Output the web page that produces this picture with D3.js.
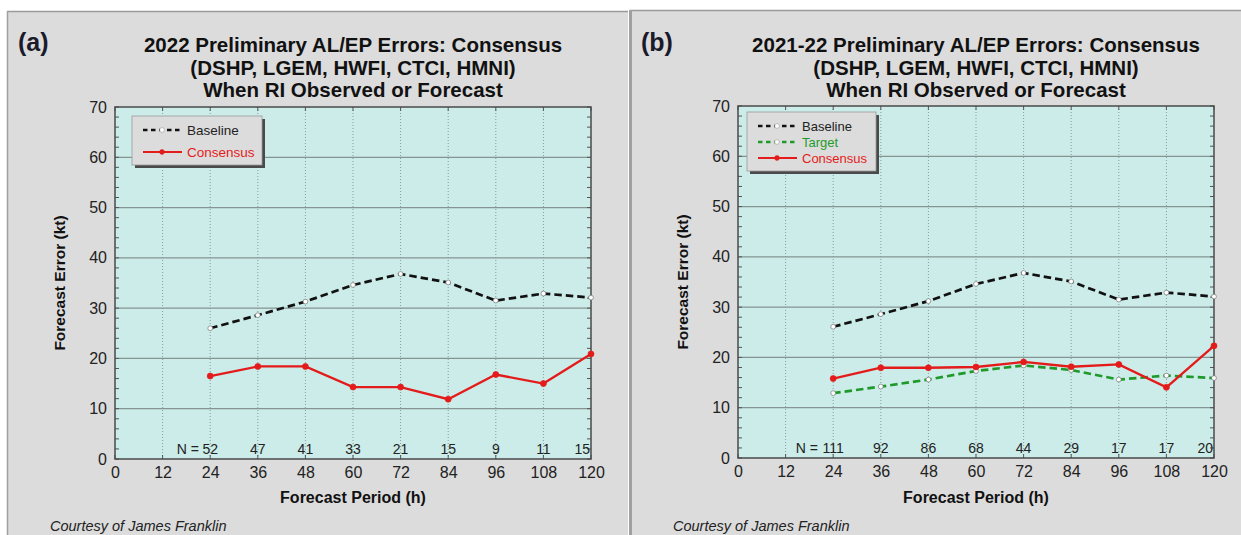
<!DOCTYPE html>
<html><head><meta charset="utf-8">
<script src="https://cdn.jsdelivr.net/npm/d3@7"></script>
<style>
html,body{margin:0;padding:0;background:#fff;}
svg text{font-family:"Liberation Sans",Arial,sans-serif;}
</style></head>
<body>
<svg id="chart" width="1241" height="535"></svg>
<script>
// ---- data ----
const hours = [24, 36, 48, 60, 72, 84, 96, 108, 120];
const xTicks = [0, 12, 24, 36, 48, 60, 72, 84, 96, 108, 120];
const yTicks = [0, 10, 20, 30, 40, 50, 60, 70];

const titleA = ["2022 Preliminary AL/EP Errors: Consensus", "(DSHP, LGEM, HWFI, CTCI, HMNI)", "When RI Observed or Forecast"];
const baselineA = [26.0, 28.6, 31.3, 34.6, 36.8, 35.1, 31.5, 32.9, 32.1];
const consensusA = [16.5, 18.4, 18.4, 14.3, 14.3, 11.9, 16.8, 15.0, 20.9];
const countsA = [52, 47, 41, 33, 21, 15, 9, 11, 15];

const titleB = ["2021-22 Preliminary AL/EP Errors: Consensus", "(DSHP, LGEM, HWFI, CTCI, HMNI)", "When RI Observed or Forecast"];
const baselineB = [26.1, 28.6, 31.2, 34.6, 36.8, 35.1, 31.5, 32.9, 32.1];
const targetB = [12.9, 14.2, 15.6, 17.3, 18.4, 17.5, 15.6, 16.4, 15.9];
const consensusB = [15.8, 17.95, 17.95, 18.1, 19.1, 18.15, 18.6, 14.05, 22.3];
const countsB = [111, 92, 86, 68, 44, 29, 17, 17, 20];

const seriesStyle = {
  Baseline: {color: "#111", dash: "7.5,4", marker: "open", textColor: "#222"},
  Target: {color: "#1f9a2a", dash: "7.5,4", marker: "open", textColor: "#1f9a2a"},
  Consensus: {color: "#e41b1b", dash: null, marker: "filled", textColor: "#e41b1b"}
};

const svg = d3.select("#chart");

function panel(cfg) {
  const g = svg.append("g");
  g.append("rect").attr("x", cfg.px).attr("y", cfg.py).attr("width", cfg.pw).attr("height", 535 - cfg.py)
    .attr("fill", "#dcdcdc");
  g.append("line").attr("x1", cfg.px).attr("x2", cfg.px + cfg.pw).attr("y1", cfg.py + 0.5).attr("y2", cfg.py + 0.5)
    .attr("stroke", "#9a9a9a").attr("stroke-width", 1.5);
  g.append("line").attr("x1", cfg.px + 0.5).attr("x2", cfg.px + 0.5).attr("y1", cfg.py).attr("y2", 535)
    .attr("stroke", "#a0a0a0").attr("stroke-width", cfg.leftBorder);

  const x = d3.scaleLinear().domain([0, 120]).range([cfg.x0, cfg.x1]);
  const y = d3.scaleLinear().domain([0, 70]).range([cfg.y0, cfg.y1]);

  g.append("rect").attr("x", cfg.x0).attr("y", cfg.y1).attr("width", cfg.x1 - cfg.x0).attr("height", cfg.y0 - cfg.y1)
    .attr("fill", "#cbece8");

  g.append("g").selectAll("line").data(xTicks.slice(1, -1)).join("line")
    .attr("x1", d => x(d)).attr("x2", d => x(d)).attr("y1", cfg.y1).attr("y2", cfg.y0)
    .attr("stroke", "#8c9c9a").attr("stroke-width", 1).attr("stroke-dasharray", "1,2");
  g.append("g").selectAll("line").data(yTicks.slice(1, -1)).join("line")
    .attr("x1", cfg.x0).attr("x2", cfg.x1).attr("y1", d => y(d)).attr("y2", d => y(d))
    .attr("stroke", "#869593").attr("stroke-width", 1.2);

  const minor = d3.range(0, 71, 2);
  g.append("g").selectAll("line").data(minor).join("line")
    .attr("x1", cfg.x0).attr("x2", cfg.x0 + 4).attr("y1", d => y(d)).attr("y2", d => y(d))
    .attr("stroke", "#555").attr("stroke-width", 1);
  g.append("g").selectAll("line").data(minor).join("line")
    .attr("x1", cfg.x1 - 4).attr("x2", cfg.x1).attr("y1", d => y(d)).attr("y2", d => y(d))
    .attr("stroke", "#555").attr("stroke-width", 1);
  g.append("g").selectAll("line").data(xTicks).join("line")
    .attr("x1", d => x(d)).attr("x2", d => x(d)).attr("y1", cfg.y1).attr("y2", cfg.y1 + 4)
    .attr("stroke", "#555");
  g.append("g").selectAll("line").data(xTicks).join("line")
    .attr("x1", d => x(d)).attr("x2", d => x(d)).attr("y1", cfg.y0 - 4).attr("y2", cfg.y0)
    .attr("stroke", "#555");

  const xAxis = g.append("g").attr("transform", `translate(0,${cfg.y0})`)
    .call(d3.axisBottom(x).tickValues(xTicks).tickSize(0).tickPadding(8));
  xAxis.select(".domain").remove();
  xAxis.selectAll("text").attr("font-size", 16).attr("fill", "#222").attr("font-family", "Liberation Sans, Arial, sans-serif");
  const yAxis = g.append("g").attr("transform", `translate(${cfg.x0},0)`)
    .call(d3.axisLeft(y).tickValues(yTicks).tickSize(0).tickPadding(8));
  yAxis.select(".domain").remove();
  yAxis.selectAll("text").attr("font-size", 16).attr("fill", "#222").attr("font-family", "Liberation Sans, Arial, sans-serif");

  g.append("rect").attr("x", cfg.x0).attr("y", cfg.y1).attr("width", cfg.x1 - cfg.x0).attr("height", cfg.y0 - cfg.y1)
    .attr("fill", "none").attr("stroke", "#4a4a4a").attr("stroke-width", 1.5);

  g.append("g").selectAll("text").data(cfg.counts).join("text")
    .attr("x", (d, i) => i === cfg.counts.length - 1 ? x(hours[i]) - 1 : x(hours[i]))
    .attr("y", cfg.y0 - 5)
    .attr("text-anchor", (d, i) => i === cfg.counts.length - 1 ? "end" : "middle")
    .attr("font-size", 14).attr("fill", "#222").text(d => d);
  g.append("text").attr("x", x(hours[0]) - String(cfg.counts[0]).length * 3.9 - 3.5).attr("y", cfg.y0 - 5)
    .attr("text-anchor", "end").attr("font-size", 14).attr("fill", "#222").text("N =");

  const line = d3.line().x((d, i) => x(hours[i])).y(d => y(d));
  cfg.series.forEach(s => {
    const st = seriesStyle[s.name];
    g.append("path").datum(s.values).attr("d", line).attr("fill", "none")
      .attr("stroke", st.color).attr("stroke-width", st.dash ? 2.7 : 2.3)
      .attr("stroke-dasharray", st.dash);
    g.append("g").selectAll("circle").data(s.values).join("circle")
      .attr("cx", (d, i) => x(hours[i])).attr("cy", d => y(d))
      .attr("r", st.marker === "open" ? 2.4 : 3)
      .attr("fill", st.marker === "open" ? "#fff" : st.color)
      .attr("stroke", st.marker === "open" ? "#777" : st.color).attr("stroke-width", 0.7);
  });

  const L = cfg.legend;
  g.append("rect").attr("x", L.x + 3).attr("y", L.y + 3).attr("width", L.w).attr("height", L.h).attr("fill", "#4a4a4a");
  g.append("rect").attr("x", L.x).attr("y", L.y).attr("width", L.w).attr("height", L.h)
    .attr("fill", "#dcdcdc").attr("stroke", "#9a9a9a").attr("stroke-width", 0.8);
  cfg.series.forEach((s, i) => {
    const st = seriesStyle[s.name];
    const ly = L.y + L.first + i * L.step;
    g.append("line").attr("x1", L.x + 11).attr("x2", L.x + 50).attr("y1", ly).attr("y2", ly)
      .attr("stroke", st.color).attr("stroke-width", st.dash ? 2.4 : 2).attr("stroke-dasharray", st.dash ? "4.5,3.5" : null);
    g.append("circle").attr("cx", L.x + 30).attr("cy", ly).attr("r", 2.4)
      .attr("fill", st.marker === "open" ? "#fff" : st.color).attr("stroke", st.marker === "open" ? "#999" : st.color).attr("stroke-width", 0.6);
    g.append("text").attr("x", L.x + 55).attr("y", ly + 4.5).attr("font-size", L.fs).attr("fill", st.textColor).text(s.name);
  });

  const cx = (cfg.x0 + cfg.x1) / 2;
  cfg.title.forEach((t, i) => {
    g.append("text").attr("x", cx).attr("y", 52 + i * 22.5).attr("text-anchor", "middle")
      .attr("font-size", 20.5).attr("font-weight", "bold").attr("fill", "#111").text(t);
  });
  g.append("text").attr("x", cfg.px + 11).attr("y", 51).attr("font-size", 25).attr("font-weight", "bold")
    .attr("fill", "#1a1a2a").attr("font-family", "Open Sans, sans-serif").text(cfg.tag);

  g.append("text").attr("x", cx).attr("y", 503).attr("text-anchor", "middle").attr("font-size", 16)
    .attr("font-weight", "bold").attr("fill", "#111").text("Forecast Period (h)");
  g.append("text").attr("transform", `translate(${cfg.x0 - 50},${(cfg.y0 + cfg.y1) / 2}) rotate(-90)`)
    .attr("text-anchor", "middle").attr("font-size", 15.5).attr("font-weight", "bold").attr("fill", "#111")
    .text("Forecast Error (kt)");
  g.append("text").attr("x", cfg.px + 43).attr("y", 531).attr("font-size", 14.5).attr("font-style", "italic")
    .attr("fill", "#222").text("Courtesy of James Franklin");
}

panel({
  px: 7, py: 11, pw: 621, leftBorder: 1.5, tag: "(a)", title: titleA,
  x0: 115, x1: 591, y0: 459, y1: 107,
  counts: countsA,
  series: [{name: "Baseline", values: baselineA}, {name: "Consensus", values: consensusA}],
  legend: {x: 132, y: 116, w: 130, h: 49, first: 14, step: 22, fs: 13.5}
});
panel({
  px: 630, py: 10, pw: 611, leftBorder: 3, tag: "(b)", title: titleB,
  x0: 738, x1: 1214, y0: 458, y1: 106,
  counts: countsB,
  series: [{name: "Baseline", values: baselineB}, {name: "Target", values: targetB}, {name: "Consensus", values: consensusB}],
  legend: {x: 747, y: 112, w: 129, h: 59, first: 14, step: 16, fs: 13}
});
</script>
</body></html>
